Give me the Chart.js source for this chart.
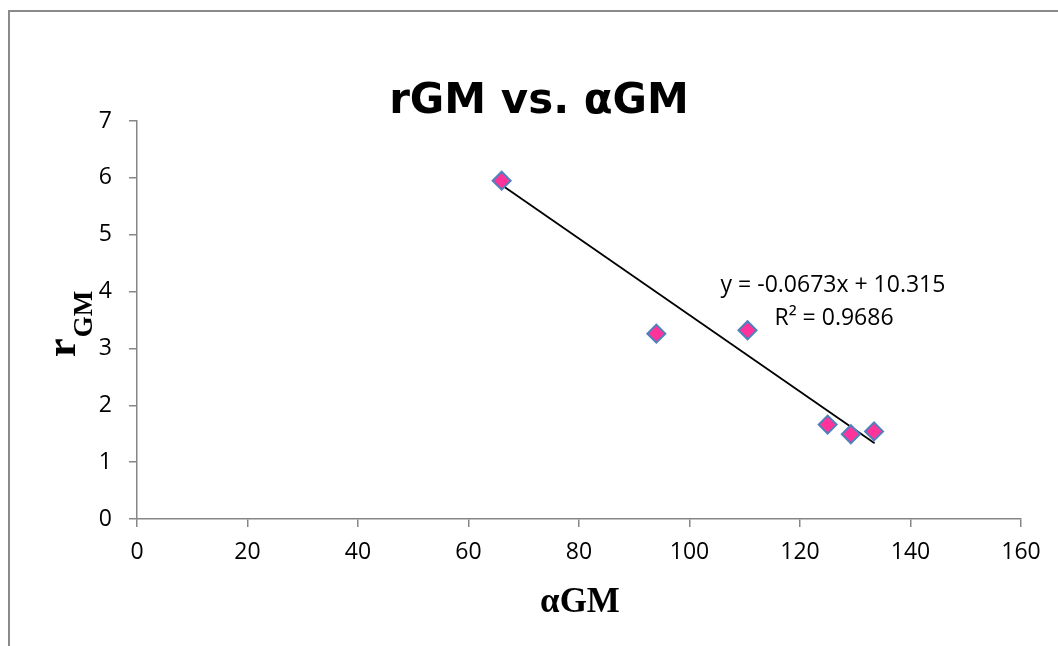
<!DOCTYPE html>
<html>
<head>
<meta charset="utf-8">
<script src="https://cdn.jsdelivr.net/npm/chart.js@4"></script>
<style>
  html, body { margin: 0; padding: 0; background: #fff; }
  #wrap { width: 1058px; height: 646px; }
</style>
</head>
<body>
<div id="wrap"><canvas id="chart" width="1058" height="646"></canvas></div>
<script>
// values
const alphaGM = [66, 94, 110.5, 125, 129.2, 133.4];
const rGM = [5.95, 3.26, 3.32, 1.66, 1.49, 1.54];

// linear trendline as printed on the chart
const slope = -0.0673;
const intercept = 10.315;
const trendRange = [66, 133.5];
const r2 = 0.9686;

const xTicks = [0, 20, 40, 60, 80, 100, 120, 140, 160];
const yTicks = [0, 1, 2, 3, 4, 5, 6, 7];

const points = alphaGM.map((x, i) => ({ x: x, y: rGM[i] }));
const trend = trendRange.map(x => ({ x: x, y: slope * x + intercept }));

// title, axis titles, trend label and outer frame
const decorations = {
  id: 'decorations',
  afterDraw(chart) {
    const ctx = chart.ctx;
    ctx.save();

    // frame (only top + left visible in the picture)
    ctx.strokeStyle = '#8a8a8a';
    ctx.lineWidth = 2;
    ctx.beginPath();
    ctx.moveTo(9, 646);
    ctx.lineTo(9, 11);
    ctx.lineTo(1058, 11);
    ctx.stroke();

    ctx.fillStyle = '#000';

    // chart title
    ctx.font = 'bold 42px "DejaVu Sans"';
    ctx.textAlign = 'center';
    ctx.textBaseline = 'alphabetic';
    ctx.fillText('rGM vs. \u03b1GM', 539, 113);

    // x axis title
    ctx.font = 'bold 35px "Liberation Serif"';
    ctx.fillText('\u03b1GM', 580, 612);

    // y axis title r with subscript GM
    ctx.save();
    ctx.translate(75, 357);
    ctx.rotate(-Math.PI / 2);
    ctx.textAlign = 'left';
    ctx.font = 'bold 42px "Liberation Serif"';
    ctx.fillText('r', 0, 0);
    const rw = ctx.measureText('r').width;
    ctx.font = 'bold 27px "Liberation Serif"';
    ctx.fillText('GM', rw + 1, 17);
    ctx.restore();

    // trendline label
    ctx.font = '23px "Open Sans"';
    ctx.textAlign = 'center';
    ctx.fillText('y = ' + slope + 'x + ' + intercept, 833, 292);
    ctx.fillText('R\u00b2 = ' + r2, 834, 325);

    ctx.restore();
  }
};

const data = {
  datasets: [
    {
      label: 'Trend',
      type: 'line',
      data: trend,
      borderColor: '#000',
      borderWidth: 1.8,
      pointRadius: 0,
      fill: false,
      order: 2,
    },
    {
      label: 'rGM',
      type: 'scatter',
      data: points,
      pointStyle: 'rectRot',
      pointRadius: 9,
      pointBackgroundColor: '#ff3399',
      pointBorderColor: '#4f81bd',
      pointBorderWidth: 2,
      order: 1,
    },
  ],
};

const config = {
  type: 'scatter',
  data: data,
  options: {
    responsive: false,
    animation: false,
    devicePixelRatio: 1,
    layout: { padding: { left: 0, top: 121, right: 37, bottom: 0 } },
    plugins: {
      legend: { display: false },
      title: { display: false },
      tooltip: { enabled: false },
    },
    scales: {
      x: {
        type: 'linear',
        min: 0,
        max: 160,
        afterBuildTicks: (scale) => { scale.ticks = xTicks.map(v => ({ value: v })); },
        afterFit: (scale) => { scale.height = 127; },
        grid: { drawOnChartArea: false, drawTicks: true, tickLength: 8, color: '#868686', lineWidth: 1.5 },
        border: { color: '#868686', width: 1.5 },
        ticks: { color: '#000', font: { family: 'Open Sans', size: 23 }, padding: 12, maxRotation: 0 },
      },
      y: {
        type: 'linear',
        min: 0,
        max: 7,
        afterBuildTicks: (scale) => { scale.ticks = yTicks.map(v => ({ value: v })); },
        afterFit: (scale) => { scale.width = 137; },
        grid: { drawOnChartArea: false, drawTicks: true, tickLength: 8, color: '#868686', lineWidth: 1.5 },
        border: { color: '#868686', width: 1.5 },
        ticks: { color: '#000', font: { family: 'Open Sans', size: 23 }, padding: 17 },
      },
    },
  },
  plugins: [decorations],
};

new Chart(document.getElementById('chart'), config);
</script>
</body>
</html>
